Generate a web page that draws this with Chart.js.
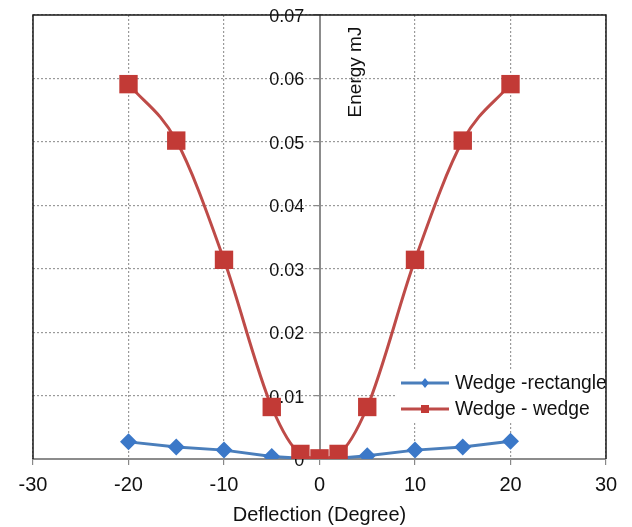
<!DOCTYPE html>
<html>
<head>
<meta charset="utf-8">
<script src="https://cdn.jsdelivr.net/npm/chart.js@4/dist/chart.umd.min.js"></script>
<style>
  html, body { margin: 0; padding: 0; background: #ffffff; }
  #wrap { width: 632px; height: 527px; }
</style>
</head>
<body>
<div id="wrap"><canvas id="c" width="632" height="527"></canvas></div>
<script>
// ---- Data ----
const deflection = [-20, -15, -10, -5, -2, 0, 2, 5, 10, 15, 20];
const wedgeRectangle = [0.0027, 0.0019, 0.0014, 0.0004, 0.0001, 0, 0.0001, 0.0005, 0.0014, 0.0019, 0.0028];
const wedgeWedge = [0.0591, 0.0502, 0.0314, 0.0082, 0.0008, 0.0001, 0.0008, 0.0082, 0.0314, 0.0502, 0.0591];
const seriesNames = ['Wedge -rectangle', 'Wedge - wedge'];
const xTitle = 'Deflection (Degree)';
const yTitle = 'Energy mJ';

const BLUE = '#4A7EBB';
const BLUE_MK = '#3B78C8';
const RED = '#BE4B48';
const RED_MK = '#C23A36';
const FONT = '"Liberation Sans", Arial, sans-serif';

function pts(xs, ys) { return xs.map((x, i) => ({ x: x, y: ys[i] })); }

const frame = {
  id: 'frame',
  beforeDatasetsDraw(chart) {
    const { ctx, chartArea: a } = chart;
    ctx.save();
    ctx.strokeStyle = '#1a1a1a';
    ctx.lineWidth = 1.5;
    ctx.beginPath();
    ctx.moveTo(a.left, a.bottom);
    ctx.lineTo(a.left, a.top);
    ctx.lineTo(a.right, a.top);
    ctx.lineTo(a.right, a.bottom);
    ctx.stroke();
    ctx.restore();
  },
  afterDatasetsDraw(chart) {
    const { ctx, chartArea: a, scales } = chart;
    ctx.save();
    // y axis title
    const x0 = scales.x.getPixelForValue(0);
    ctx.translate(x0 + 36, a.top + 57);
    ctx.rotate(-Math.PI / 2);
    ctx.font = '19px ' + FONT;
    ctx.fillStyle = '#111';
    ctx.textAlign = 'center';
    ctx.textBaseline = 'middle';
    ctx.fillText(yTitle, 0, 0);
    ctx.restore();
    // legend
    ctx.save();
    const lx = 401, tx = 455;
    const rows = [
      { y: 383, color: BLUE, mk: BLUE_MK, shape: 'diamond', label: seriesNames[0] },
      { y: 409, color: RED, mk: RED_MK, shape: 'square', label: seriesNames[1] }
    ];
    ctx.fillStyle = '#ffffff';
    ctx.fillRect(396, 369, 209, 54);
    rows.forEach(r => {
      ctx.strokeStyle = r.color;
      ctx.lineWidth = 3;
      ctx.beginPath();
      ctx.moveTo(lx, r.y);
      ctx.lineTo(lx + 48, r.y);
      ctx.stroke();
      ctx.fillStyle = r.mk;
      ctx.beginPath();
      const cx = lx + 24;
      if (r.shape === 'diamond') {
        ctx.moveTo(cx, r.y - 5); ctx.lineTo(cx + 4, r.y); ctx.lineTo(cx, r.y + 5); ctx.lineTo(cx - 4, r.y); ctx.closePath();
      } else {
        ctx.rect(cx - 4, r.y - 4, 8, 8);
      }
      ctx.fill();
      ctx.fillStyle = '#111';
      ctx.font = '19.3px ' + FONT;
      ctx.textAlign = 'left';
      ctx.textBaseline = 'middle';
      ctx.fillText(r.label, tx, r.y + 1);
    });
    ctx.restore();
  }
};

function noPad(s) { s.paddingTop = 0; s.paddingBottom = 0; }

new Chart(document.getElementById('c'), {
  type: 'scatter',
  data: {
    datasets: [
      {
        label: seriesNames[0],
        data: pts(deflection, wedgeRectangle),
        showLine: true,
        borderColor: BLUE,
        borderWidth: 3,
        backgroundColor: BLUE_MK,
        pointStyle: 'rectRot',
        pointRadius: 8.5,
        pointBorderWidth: 0,
        tension: 0,
        yAxisID: 'y',
        order: 2
      },
      {
        label: seriesNames[1],
        data: pts(deflection, wedgeWedge),
        showLine: true,
        borderColor: RED,
        borderWidth: 3,
        backgroundColor: RED_MK,
        pointStyle: 'rect',
        pointRadius: 13,
        pointBorderWidth: 0,
        cubicInterpolationMode: 'monotone',
        tension: 0.4,
        yAxisID: 'y',
        order: 1
      }
    ]
  },
  options: {
    responsive: false,
    animation: false,
    events: [],
    layout: { padding: { top: 15, right: 26, left: 0, bottom: 0 } },
    plugins: { legend: { display: false }, tooltip: { enabled: false } },
    scales: {
      x: {
        type: 'linear',
        position: 'bottom',
        min: -30, max: 30,
        ticks: { stepSize: 10, font: { size: 20, family: FONT }, color: '#111', padding: 8 },
        grid: { color: '#9a9a9a', lineWidth: 1.2, drawTicks: true, tickLength: 6, tickColor: '#888', tickBorderDash: [] },
        border: { display: true, color: '#8c8c8c', width: 2, dash: [2, 2] },
        title: { display: true, text: xTitle, font: { size: 20, family: FONT }, color: '#111', padding: { top: 2, bottom: 0 } },
        afterFit(s) { s.height = 68; s.paddingLeft = 33; }
      },
      y: {
        type: 'linear',
        position: { x: 0 },
        min: 0, max: 0.07,
        ticks: { stepSize: 0.01, display: false },
        grid: { color: '#9a9a9a', lineWidth: 1.2, drawTicks: true, tickLength: 5, tickColor: '#888', tickBorderDash: [] },
        border: { display: true, color: '#8c8c8c', width: 2, dash: [2, 2] },
        afterFit: noPad
      },
      yLabels: {
        type: 'linear',
        position: { x: -1.6 },
        min: 0, max: 0.07,
        ticks: { stepSize: 0.01, font: { size: 18, family: FONT }, color: '#111', padding: 0, labelOffset: 2,
                 callback: v => (Math.round(v * 100) / 100).toString() },
        grid: { display: false, drawTicks: false },
        border: { display: false },
        afterFit: noPad
      }
    }
  },
  plugins: [frame]
});
</script>
</body>
</html>
